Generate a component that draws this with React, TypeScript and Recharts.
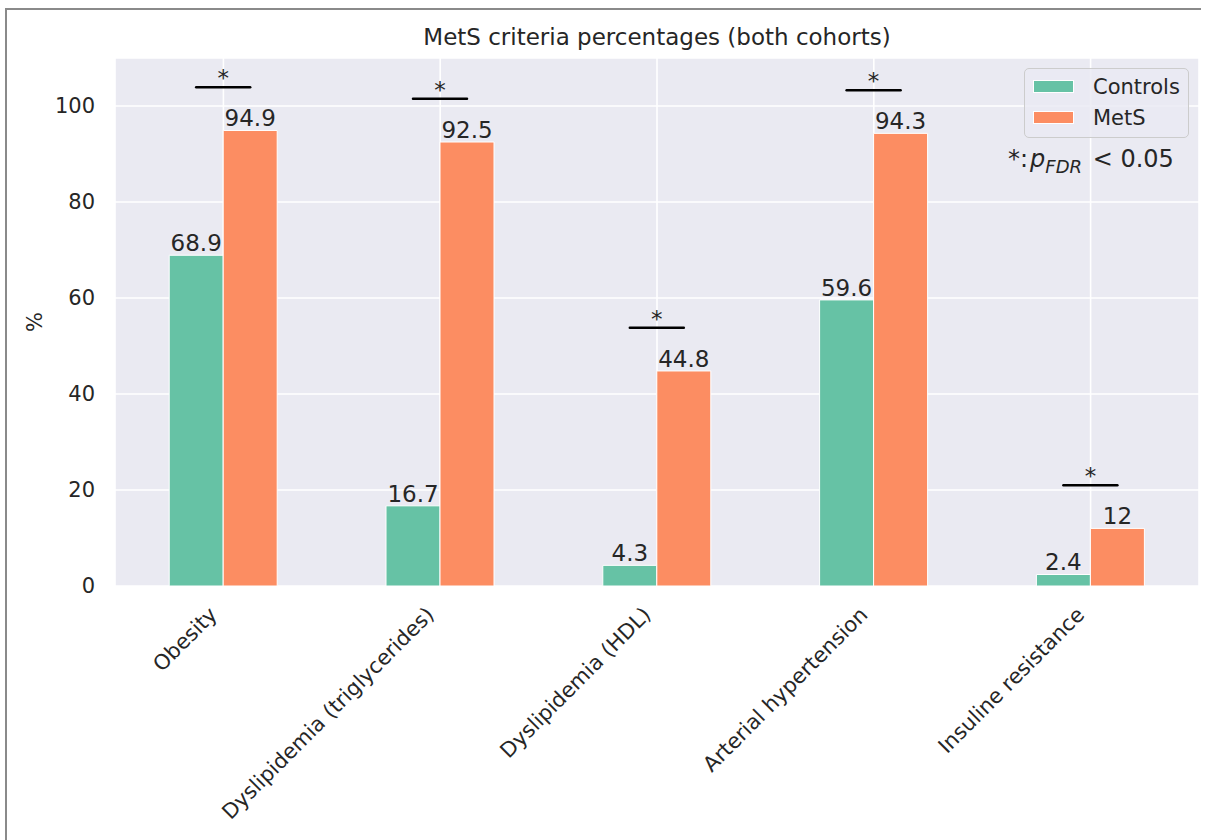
import { BarChart, Bar, XAxis, YAxis, CartesianGrid, LabelList } from "recharts";

const categories = [
  "Obesity",
  "Dyslipidemia (triglycerides)",
  "Dyslipidemia (HDL)",
  "Arterial hypertension",
  "Insuline resistance",
];
const controls = [68.9, 16.7, 4.3, 59.6, 2.4];
const mets = [94.9, 92.5, 44.8, 94.3, 12];
const significant = [true, true, true, true, true];
const yTicks = [0, 20, 40, 60, 80, 100];

const GREEN = "#66c2a5";
const ORANGE = "#fc8d62";
const TEXT = "#262626";
const FONT = "DejaVu Sans";

const data = categories.map((name, i) => ({
  name,
  Controls: controls[i],
  MetS: mets[i],
}));

// rotated x labels, right end at the tick like matplotlib ha="right"
const XTick = (props: any) => {
  const { x, y, payload } = props;
  const ax = x - 5;
  const ay = y + 30;
  return (
    <text
      x={ax}
      y={ay}
      transform={`rotate(-45, ${ax}, ${ay})`}
      textAnchor="end"
      fontFamily={FONT}
      fontSize={21}
      fill={TEXT}
    >
      {payload.value}
    </text>
  );
};

// significance bar + star drawn from the MetS bar geometry
const SigMark = (props: any) => {
  const vb = props.viewBox || props;
  const { x, y, width, height } = vb;
  const i = props.index;
  if (!significant[i] || !height) return null;
  const ppu = height / mets[i];
  const bottom = y + height;
  const level = Math.max(controls[i], mets[i]) + 9;
  const ly = bottom - level * ppu;
  const x1 = x - width / 2;
  const x2 = x + width / 2;
  return (
    <g>
      <line x1={x1} x2={x2} y1={ly} y2={ly} stroke="#000" strokeWidth={2.5} strokeLinecap="round" />
      <text x={x} y={ly - 1} textAnchor="middle" fontFamily={FONT} fontSize={23} fill={TEXT}>
        *
      </text>
    </g>
  );
};

export default function App() {
  return (
    <div
      style={{
        position: "absolute",
        left: 0,
        top: 0,
        width: 1206,
        height: 840,
        background: "#fff",
        overflow: "hidden",
      }}
    >
      <div style={{ position: "absolute", left: 0, top: 0 }}>
        <BarChart
          width={1206}
          height={840}
          data={data}
          margin={{ top: 58, right: 7, bottom: 0, left: 55 }}
          barCategoryGap="25%"
          barGap={0}
        >
          <CartesianGrid stroke="#ffffff" strokeWidth={1.6} fill="#eaeaf2" fillOpacity={1} />
          <XAxis
            dataKey="name"
            height={254}
            axisLine={false}
            tickLine={false}
            tickSize={0}
            tickMargin={0}
            interval={0}
            tick={<XTick />}
          />
          <YAxis
            width={60}
            domain={[0, 110]}
            ticks={yTicks}
            axisLine={false}
            tickLine={false}
            tickSize={0}
            tickMargin={20}
            tick={{ fontFamily: FONT, fontSize: 21, fill: TEXT }}
          />
          <Bar dataKey="Controls" fill={GREEN} stroke="#fff" strokeWidth={1} isAnimationActive={false}>
            <LabelList dataKey="Controls" position="top" offset={4} fontFamily={FONT} fontSize={23} fill={TEXT} />
          </Bar>
          <Bar dataKey="MetS" fill={ORANGE} stroke="#fff" strokeWidth={1} isAnimationActive={false}>
            <LabelList dataKey="MetS" position="top" offset={4} fontFamily={FONT} fontSize={23} fill={TEXT} />
            <LabelList dataKey="MetS" content={<SigMark />} />
          </Bar>
        </BarChart>
      </div>

      <svg width={1206} height={840} style={{ position: "absolute", left: 0, top: 0, pointerEvents: "none" }}>
        {/* figure frame (top and left edges only) */}
        <line x1={5} x2={1201} y1={9} y2={9} stroke="#8a8a8a" strokeWidth={2} />
        <line x1={6} x2={6} y1={8} y2={840} stroke="#8a8a8a" strokeWidth={2} />
        <text x={657} y={45} textAnchor="middle" fontFamily={FONT} fontSize={23} fill={TEXT}>
          MetS criteria percentages (both cohorts)
        </text>
        <text
          x={35}
          y={322}
          transform="rotate(-90, 35, 322)"
          textAnchor="middle"
          dominantBaseline="central"
          fontFamily={FONT}
          fontSize={21}
          fill={TEXT}
        >
          %
        </text>
        <text x={1008} y={167} fontFamily={FONT} fontSize={24} fill={TEXT}>
          *:<tspan fontStyle="italic" dx={2}>p</tspan>
          <tspan fontStyle="italic" fontSize={18} dy={6}>FDR</tspan>
          <tspan dy={-6} dx={3}> &lt; 0.05</tspan>
        </text>
      </svg>

      <div
        style={{
          position: "absolute",
          left: 1024,
          top: 68,
          width: 165,
          height: 70,
          boxSizing: "border-box",
          border: "1px solid #cccccc",
          borderRadius: 5,
          background: "rgba(234,234,242,0.8)",
          fontFamily: FONT,
          fontSize: 21,
          color: TEXT,
        }}
      >
        {[
          { label: "Controls", color: GREEN, cy: 18 },
          { label: "MetS", color: ORANGE, cy: 49 },
        ].map((row) => (
          <div key={row.label}>
            <div
              style={{
                position: "absolute",
                left: 8,
                top: row.cy - 7,
                width: 41,
                height: 13,
                background: row.color,
                border: "1px solid #fff",
                boxSizing: "border-box",
              }}
            />
            <div style={{ position: "absolute", left: 68, top: row.cy - 13, lineHeight: "26px" }}>{row.label}</div>
          </div>
        ))}
      </div>
    </div>
  );
}
